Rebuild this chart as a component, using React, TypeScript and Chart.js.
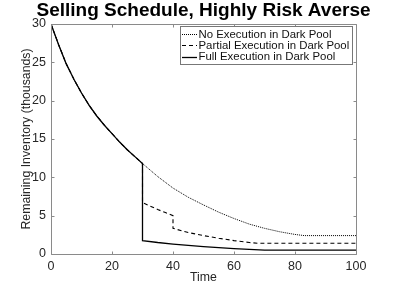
import React, { useEffect, useRef } from "react";
import { Chart, registerables } from "chart.js";

Chart.register(...registerables);

// ---- data ----
const titleText = "Selling Schedule, Highly Risk Averse";
const xAxisTitle = "Time";
const yAxisTitle = "Remaining Inventory (thousands)";
const seriesLabels = [
  "No Execution in Dark Pool",
  "Partial Execution in Dark Pool",
  "Full Execution in Dark Pool",
];

// common trajectory before the dark pool fills at t = 30
const preTimes = [0, 2.5, 5, 7.5, 10, 12.5, 15, 17.5, 20, 22.5, 25, 27.5, 30];
const preValues = [30, 27.3, 24.8, 22.8, 21.0, 19.4, 18.0, 16.8, 15.7, 14.6, 13.6, 12.7, 11.8];

const noExecTimes = [35, 40, 45, 50, 55, 60, 65, 70, 75, 80, 83, 100];
const noExecValues = [10.1, 8.6, 7.4, 6.4, 5.45, 4.63, 3.9, 3.35, 2.9, 2.55, 2.4, 2.4];

const partialTimes = [30, 32.5, 35, 37.5, 40, 40, 45, 50, 55, 60, 65, 68, 100];
const partialValues = [6.7, 6.25, 5.8, 5.4, 5.0, 3.35, 2.8, 2.4, 2.05, 1.75, 1.5, 1.4, 1.4];

const fullTimes = [30, 35, 40, 45, 50, 55, 60, 65, 70, 100];
const fullValues = [1.75, 1.5, 1.3, 1.12, 0.97, 0.83, 0.7, 0.6, 0.5, 0.5];

const xTicks = [0, 20, 40, 60, 80, 100];
const yTicks = [0, 5, 10, 15, 20, 25, 30];

const toPoints = (ts: number[], vs: number[]) => ts.map((t, i) => ({ x: t, y: vs[i] }));

const FONT = "'Liberation Sans', Arial, Helvetica, sans-serif";
const AXIS_COLOR = "#8a8a8a";
const TEXT_COLOR = "#262626";

const decorPlugin = {
  id: "decor",
  afterDraw(chart: any) {
    const ctx = chart.ctx as CanvasRenderingContext2D;
    const a = chart.chartArea;
    const xs = chart.scales.x;
    const ys = chart.scales.y;
    ctx.save();
    // box + inward ticks
    ctx.strokeStyle = AXIS_COLOR;
    ctx.lineWidth = 1;
    const L = Math.round(a.left) + 0.5;
    const R = Math.round(a.right) + 0.5;
    const T = Math.round(a.top) + 0.5;
    const B = Math.round(a.bottom) + 0.5;
    ctx.beginPath();
    ctx.rect(L, T, R - L, B - T);
    const tl = 3;
    xTicks.forEach((v) => {
      const px = Math.round(xs.getPixelForValue(v)) + 0.5;
      ctx.moveTo(px, B);
      ctx.lineTo(px, B - tl);
      ctx.moveTo(px, T);
      ctx.lineTo(px, T + tl);
    });
    yTicks.forEach((v) => {
      const py = Math.round(ys.getPixelForValue(v)) + 0.5;
      ctx.moveTo(L, py);
      ctx.lineTo(L + tl, py);
      ctx.moveTo(R, py);
      ctx.lineTo(R - tl, py);
    });
    ctx.stroke();

    // title
    const cx = (a.left + a.right) / 2;
    ctx.fillStyle = "#000";
    ctx.font = `bold 19px ${FONT}`;
    ctx.textAlign = "center";
    ctx.textBaseline = "alphabetic";
    ctx.fillText(titleText, cx, 16);

    // axis titles
    ctx.fillStyle = TEXT_COLOR;
    ctx.font = `12.3px ${FONT}`;
    ctx.fillText(xAxisTitle, cx, 281);
    ctx.save();
    ctx.translate(30, (a.top + a.bottom) / 2);
    ctx.rotate(-Math.PI / 2);
    ctx.fillText(yAxisTitle, 0, 0);
    ctx.restore();

    // legend
    const bx = 180.5, by = 26.5, bw = 172, bh = 38;
    ctx.fillStyle = "#fff";
    ctx.fillRect(bx, by, bw, bh);
    ctx.strokeStyle = "#777";
    ctx.lineWidth = 1;
    ctx.strokeRect(bx, by, bw, bh);
    ctx.font = `11.4px ${FONT}`;
    ctx.textAlign = "left";
    ctx.textBaseline = "middle";
    chart.data.datasets.forEach((ds: any, i: number) => {
      const y = 34 + i * 11.3;
      ctx.save();
      ctx.strokeStyle = ds.borderColor;
      ctx.lineWidth = ds.borderWidth;
      ctx.setLineDash(ds.borderDash || []);
      ctx.beginPath();
      ctx.moveTo(182, Math.round(y) + 0.5);
      ctx.lineTo(197, Math.round(y) + 0.5);
      ctx.stroke();
      ctx.restore();
      ctx.fillStyle = "#111";
      ctx.fillText(ds.label, 198.5, y + 0.5);
    });
    ctx.restore();
  },
};

export default function App() {
  const ref = useRef<HTMLCanvasElement | null>(null);
  useEffect(() => {
    if (!ref.current) return;
    const chart = new Chart(ref.current, {
      type: "line",
      data: {
        datasets: [
          {
            label: seriesLabels[0],
            data: toPoints([...preTimes, ...noExecTimes], [...preValues, ...noExecValues]),
            borderColor: "#000",
            borderWidth: 1,
            borderDash: [1, 1],
            pointRadius: 0,
            tension: 0,
          },
          {
            label: seriesLabels[1],
            data: toPoints([...preTimes, ...partialTimes], [...preValues, ...partialValues]),
            borderColor: "#000",
            borderWidth: 1.1,
            borderDash: [4, 3],
            pointRadius: 0,
            tension: 0,
          },
          {
            label: seriesLabels[2],
            data: toPoints([...preTimes, ...fullTimes], [...preValues, ...fullValues]),
            borderColor: "#000",
            borderWidth: 1.3,
            borderDash: [],
            pointRadius: 0,
            tension: 0,
          },
        ],
      },
      options: {
        responsive: false,
        animation: false,
        devicePixelRatio: 1,
        layout: { padding: { left: 0, top: 24, right: 37, bottom: 0 } },
        plugins: {
          legend: { display: false },
          title: { display: false },
          tooltip: { enabled: false },
        },
        scales: {
          x: {
            type: "linear",
            min: 0,
            max: 100,
            afterBuildTicks: (s: any) => {
              s.ticks = xTicks.map((v) => ({ value: v }));
            },
            afterFit: (s: any) => {
              s.height = 33;
            },
            grid: { display: false, drawTicks: false },
            border: { display: false },
            ticks: {
              color: TEXT_COLOR,
              font: { family: FONT, size: 12.5 },
              padding: 5,
              maxRotation: 0,
              autoSkip: false,
            },
          },
          y: {
            type: "linear",
            min: 0,
            max: 30,
            afterBuildTicks: (s: any) => {
              s.ticks = yTicks.map((v) => ({ value: v }));
            },
            afterFit: (s: any) => {
              s.width = 51;
            },
            grid: { display: false, drawTicks: false },
            border: { display: false },
            ticks: {
              color: TEXT_COLOR,
              font: { family: FONT, size: 12.5 },
              padding: 5,
              autoSkip: false,
            },
          },
        },
      },
      plugins: [decorPlugin],
    });
    return () => chart.destroy();
  }, []);
  return (
    <div style={{ position: "absolute", left: 0, top: 0, width: 393, height: 287, background: "#fff" }}>
      <canvas ref={ref} width={393} height={287} style={{ display: "block" }} />
    </div>
  );
}
